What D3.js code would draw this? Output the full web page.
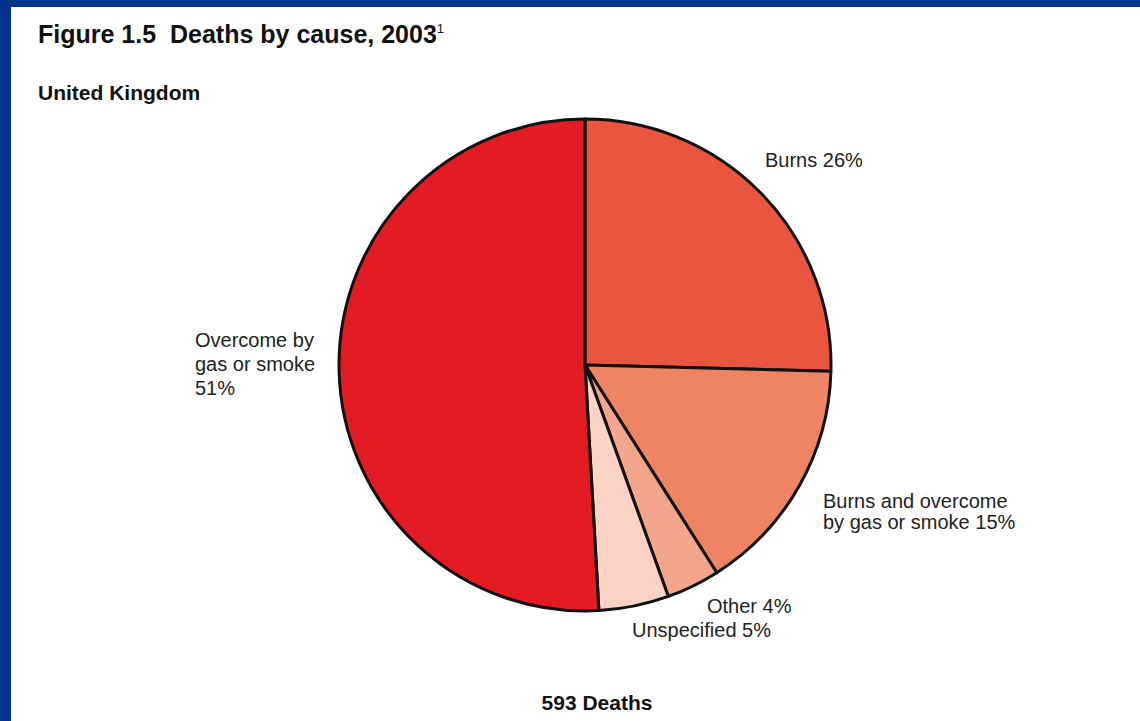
<!DOCTYPE html>
<html>
<head>
    <title>Deaths by cause, 2003</title>
    <script src="https://d3js.org/d3.v7.min.js"></script>
    <style>
        body { margin: 0; background: #fff; }
        text { font-family: "Liberation Sans", Arial, sans-serif; white-space: pre; }
    </style>
</head>
<body>
    <div id="chart"></div>
    <script>
        // data, clockwise from 12 o'clock
        var causes = ["Burns", "Burns and overcome by gas or smoke", "Other", "Unspecified", "Overcome by gas or smoke"];
        var shares = [25.4, 15.6, 3.5, 4.6, 50.9];
        var labels = [["Burns 26%"], ["Burns and overcome", "by gas or smoke 15%"], ["Other 4%"], ["Unspecified 5%"], ["Overcome by", "gas or smoke", "51%"]];
        var colors = ["#e9553e", "#ef8465", "#f3a68c", "#fbd3c4", "#e31b23"];
        var totalDeaths = "593 Deaths";

        var width = 1140, height = 721;
        var cx = 585, cy = 365, radius = 246;

        var svg = d3.select("#chart")
            .append("svg")
            .attr("width", width)
            .attr("height", height);

        svg.append("rect").attr("width", width).attr("height", height).attr("fill", "#fff");
        // blue frame (top and left edge only)
        svg.append("rect").attr("x", 0).attr("y", 0).attr("width", width).attr("height", 7).attr("fill", "#00338d");
        svg.append("rect").attr("x", 0).attr("y", 0).attr("width", 11).attr("height", height).attr("fill", "#00338d");

        // titles
        var title = svg.append("text")
            .attr("x", 38).attr("y", 43)
            .style("font-size", "25px").style("font-weight", "bold")
            .attr("fill", "#111");
        title.append("tspan").text("Figure 1.5  Deaths by cause, 2003");
        title.append("tspan").style("font-size", "13px").style("font-weight", "normal").attr("dy", -10).text("1");

        svg.append("text")
            .attr("x", 38).attr("y", 100)
            .style("font-size", "21px").style("font-weight", "bold")
            .attr("fill", "#111")
            .text("United Kingdom");

        // pie
        var pie = d3.pie().sort(null).value(function (d) { return d; });
        var arc = d3.arc().innerRadius(0).outerRadius(radius);

        var g = svg.append("g").attr("transform", "translate(" + cx + "," + cy + ")");
        g.selectAll("path")
            .data(pie(shares))
            .enter()
            .append("path")
            .attr("d", arc)
            .attr("fill", function (d, i) { return colors[i]; })
            .attr("stroke", "#111")
            .attr("stroke-width", 3)
            .attr("stroke-linejoin", "round");

        // label placement (x, y of first baseline, line height)
        var labelPos = [[765, 167, 23], [823, 508, 21], [707, 613, 23], [632, 637, 23], [195, 347, 24]];

        labels.forEach(function (lines, i) {
            var t = svg.append("text")
                .attr("x", labelPos[i][0])
                .attr("y", labelPos[i][1])
                .style("font-size", "20px")
                .attr("fill", "#222");
            lines.forEach(function (line, j) {
                t.append("tspan")
                    .attr("x", labelPos[i][0])
                    .attr("dy", j === 0 ? 0 : labelPos[i][2])
                    .text(line);
            });
        });

        svg.append("text")
            .attr("x", 597).attr("y", 710)
            .attr("text-anchor", "middle")
            .style("font-size", "21px").style("font-weight", "bold")
            .attr("fill", "#111")
            .text(totalDeaths);
    </script>
</body>
</html>
